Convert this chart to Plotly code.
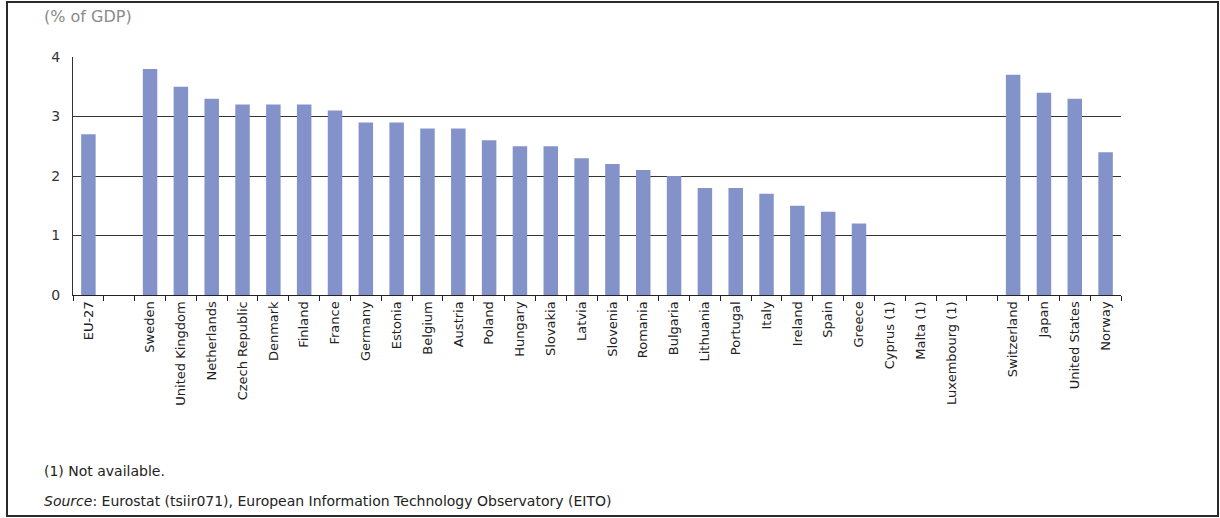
import plotly.graph_objects as go

categories = ["EU-27", " ", "Sweden", "United Kingdom", "Netherlands", "Czech Republic",
              "Denmark", "Finland", "France", "Germany", "Estonia", "Belgium", "Austria",
              "Poland", "Hungary", "Slovakia", "Latvia", "Slovenia", "Romania", "Bulgaria",
              "Lithuania", "Portugal", "Italy", "Ireland", "Spain", "Greece", "Cyprus (1)",
              "Malta (1)", "Luxembourg (1)", "  ", "Switzerland", "Japan", "United States",
              "Norway"]
values = [2.7, None, 3.8, 3.5, 3.3, 3.2, 3.2, 3.2, 3.1, 2.9, 2.9, 2.8, 2.8, 2.6, 2.5, 2.5,
          2.3, 2.2, 2.1, 2.0, 1.8, 1.8, 1.7, 1.5, 1.4, 1.2, None, None, None, None,
          3.7, 3.4, 3.3, 2.4]
y_ticks = [0, 1, 2, 3, 4]

W, H = 1220, 518
L, R, T, B = 73, 1121, 57, 295.5
pw, ph = R - L, B - T

def px(x):
    return (x - L) / pw

def py(y):
    return (B - y) / ph

FONT = "DejaVu Sans"

fig = go.Figure(go.Bar(
    x=categories, y=values, marker=dict(color="#8393C9", line=dict(width=0)),
    hoverinfo="x+y"))

fig.update_layout(
    width=W, height=H,
    margin=dict(l=L, r=W - R, t=T, b=H - B, autoexpand=False),
    paper_bgcolor="white", plot_bgcolor="white",
    bargap=0.53, showlegend=False,
    font=dict(family=FONT, color="#222", size=13),
)
fig.update_xaxes(
    type="category", tickangle=-90, tickson="boundaries", ticks="outside",
    ticklen=5, tickcolor="#222", tickwidth=1, showline=True, linecolor="#222",
    linewidth=1.3, showgrid=False, tickfont=dict(family=FONT, size=13, color="#222"),
    automargin=False,
)
fig.update_yaxes(
    range=[0, 4], tickvals=y_ticks, showgrid=True, gridcolor="#333", gridwidth=1.2,
    showline=True, linecolor="#333", linewidth=1, ticks="", zeroline=False,
    tickfont=dict(family=FONT, size=14, color="#333"), ticklabelstandoff=9,
    automargin=False,
)

fig.add_annotation(text="(% of GDP)", xref="paper", yref="paper", x=px(42), y=py(16),
                   xanchor="left", yanchor="middle", showarrow=False,
                   font=dict(family=FONT, size=16, color="#8a8a8a"))
fig.add_annotation(text="(1) Not available.", xref="paper", yref="paper", x=px(42), y=py(472),
                   xanchor="left", yanchor="middle", showarrow=False,
                   font=dict(family=FONT, size=14, color="#222"))
fig.add_annotation(text="<i>Source</i>: Eurostat (tsiir071), European Information Technology Observatory (EITO)",
                   xref="paper", yref="paper", x=px(42), y=py(502),
                   xanchor="left", yanchor="middle", showarrow=False,
                   font=dict(family=FONT, size=14, color="#222"))
fig.add_shape(type="rect", xref="paper", yref="paper", x0=px(7), x1=px(1218),
              y0=py(2), y1=py(517), line=dict(color="#2a2a2a", width=2), layer="above")

fig.write_html("out.html", config={"displayModeBar": False},
               post_script="document.body.style.margin='0';document.body.style.overflow='hidden';")
